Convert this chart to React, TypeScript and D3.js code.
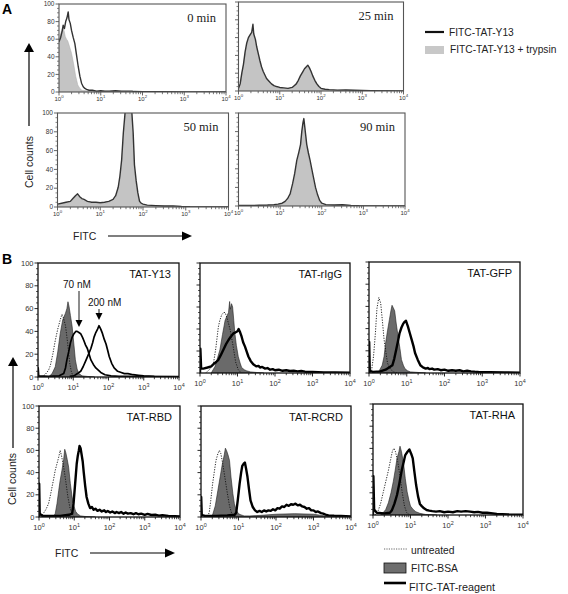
import React from 'react';
import * as d3 from 'd3';

type Pt = [number, number]; // [decade exponent of FITC, cell count]

// ---------- Panel A data ----------
const A_TIMES = ['0 min', '25 min', '50 min', '90 min'];
const A_LEGEND = ['FITC-TAT-Y13', 'FITC-TAT-Y13 + trypsin'];

const A0_LINE: Pt[] = [[0,57],[0.04,62],[0.08,70],[0.1,76],[0.13,72],[0.16,80],[0.19,84],[0.22,91],[0.24,82],[0.27,78],[0.3,70],[0.34,62],[0.38,55],[0.42,42],[0.46,29],[0.5,18],[0.54,10],[0.58,6],[0.62,4],[0.66,3],[0.72,2],[0.8,2],[0.9,1],[1.0,1.5],[1.1,1],[1.2,1],[1.35,1.5],[1.5,1],[1.6,1],[1.75,1],[1.8,0.5],[2,0.3],[2.5,0.2],[3,0.1],[4,0]];
const A0_FILL: Pt[] = [[0,57],[0.03,64],[0.06,70],[0.09,74],[0.12,70],[0.15,63],[0.18,60],[0.21,58],[0.25,52],[0.3,44],[0.35,32],[0.4,18],[0.45,8],[0.5,4],[0.55,2],[0.65,1.5],[0.8,1],[1.0,1],[1.3,0.8],[1.6,0.6],[1.8,0.3],[2.2,0],[4,0]];

const A25_LINE: Pt[] = [[0,3],[0.04,8],[0.08,20],[0.12,30],[0.16,44],[0.2,54],[0.24,60],[0.28,63],[0.32,66],[0.35,75],[0.37,64],[0.41,58],[0.44,50],[0.48,42],[0.52,34],[0.56,27],[0.6,22],[0.64,18],[0.68,14],[0.74,11],[0.8,8],[0.86,6],[0.92,5],[1.0,4],[1.1,3.5],[1.2,3],[1.3,4],[1.35,6],[1.4,8],[1.45,12],[1.5,17],[1.55,21],[1.6,25],[1.64,27],[1.68,29],[1.72,26],[1.76,22],[1.8,17],[1.85,12],[1.9,8],[1.95,5],[2.0,3],[2.1,2],[2.2,1.5],[2.4,1],[2.6,1.2],[2.8,0.8],[3.0,0.5],[3.2,0.3],[4,0]];
const A25_FILL: Pt[] = [[0,2],[0.04,7],[0.08,18],[0.12,29],[0.16,42],[0.2,52],[0.24,59],[0.28,62],[0.32,64],[0.35,70],[0.37,62],[0.41,56],[0.44,48],[0.48,40],[0.52,32],[0.56,25],[0.6,20],[0.64,16],[0.68,13],[0.74,10],[0.8,7],[0.86,5],[0.92,4],[1.0,3.5],[1.1,3],[1.2,2.5],[1.3,3.5],[1.35,5],[1.4,7],[1.45,11],[1.5,16],[1.55,20],[1.6,24],[1.64,26],[1.68,27],[1.72,25],[1.76,21],[1.8,16],[1.85,11],[1.9,7],[1.95,4],[2.0,2.5],[2.1,1.5],[2.2,1],[2.4,0.8],[2.6,1],[2.8,0.6],[3.0,0.4],[3.2,0.2],[4,0]];

const A50_LINE: Pt[] = [[0,3],[0.1,4],[0.2,5],[0.3,6],[0.36,9],[0.42,12],[0.47,14],[0.52,11],[0.57,9],[0.62,8],[0.7,6],[0.8,5],[0.9,5],[1.0,4.5],[1.1,5],[1.2,6],[1.3,8],[1.36,12],[1.42,21],[1.46,33],[1.5,50],[1.54,79],[1.58,100],[1.62,115],[1.66,118],[1.7,112],[1.74,100],[1.77,79],[1.8,45],[1.84,28],[1.88,15],[1.92,6],[1.96,4],[2.0,3],[2.1,2],[2.3,1.5],[2.5,1],[2.7,1.2],[2.9,0.6],[3.1,0.3],[4,0]];
const A50_FILL: Pt[] = [[0,2],[0.1,3],[0.2,4],[0.3,5],[0.36,8],[0.42,11],[0.47,13],[0.52,10],[0.57,8],[0.62,7],[0.7,5],[0.8,4],[0.9,4],[1.0,3.5],[1.1,4],[1.2,5],[1.3,7],[1.36,10],[1.42,18],[1.46,30],[1.5,46],[1.54,74],[1.58,96],[1.62,112],[1.66,115],[1.7,108],[1.74,95],[1.77,72],[1.8,40],[1.84,24],[1.88,12],[1.92,5],[1.96,3],[2.0,2],[2.1,1.5],[2.3,1],[2.5,0.8],[2.7,0.8],[2.9,0.4],[3.1,0.2],[4,0]];

const A90_LINE: Pt[] = [[0,0.5],[0.3,0.5],[0.5,0.8],[0.7,1],[0.85,1.5],[0.95,2],[1.05,3],[1.12,5],[1.18,8],[1.24,13],[1.3,24],[1.35,35],[1.4,49],[1.45,58],[1.49,66],[1.52,80],[1.55,90],[1.57,94],[1.6,82],[1.64,66],[1.68,57],[1.72,49],[1.76,40],[1.8,31],[1.85,20],[1.9,12],[1.95,6],[2.0,3],[2.1,1.5],[2.3,1],[2.5,1.3],[2.7,0.7],[2.9,0.3],[4,0]];
const A90_FILL: Pt[] = [[0,0.3],[0.3,0.3],[0.5,0.5],[0.7,0.8],[0.85,1],[0.95,1.5],[1.05,2],[1.12,4],[1.18,6],[1.24,10],[1.3,20],[1.35,31],[1.4,45],[1.45,56],[1.49,64],[1.52,78],[1.55,88],[1.57,91],[1.6,80],[1.64,64],[1.68,54],[1.72,45],[1.76,36],[1.8,27],[1.85,16],[1.9,9],[1.95,4],[2.0,2],[2.1,1],[2.3,0.8],[2.5,1],[2.7,0.5],[2.9,0.2],[4,0]];

// ---------- Panel B data ----------
const B_TITLES = ['TAT-Y13', 'TAT-rIgG', 'TAT-GFP', 'TAT-RBD', 'TAT-RCRD', 'TAT-RHA'];
const B_LEGEND = ['untreated', 'FITC-BSA', 'FITC-TAT-reagent'];
const B_DOSES = ['70 nM', '200 nM'];

const Y13_UNTR: Pt[] = [[0.1,0],[0.2,2],[0.3,6],[0.35,10],[0.42,20],[0.49,32],[0.56,42],[0.63,50],[0.68,55],[0.72,52],[0.78,45],[0.84,30],[0.9,12],[0.95,4],[1.0,1],[1.1,0]];
const Y13_BSA: Pt[] = [[0.3,0],[0.4,3],[0.49,9],[0.56,22],[0.63,38],[0.7,50],[0.78,56],[0.82,60],[0.85,66],[0.88,62],[0.92,54],[0.97,44],[1.02,28],[1.06,15],[1.11,7],[1.16,3],[1.25,1],[1.4,0.5],[1.6,0]];
const Y13_TAT70: Pt[] = [[0,0],[0.005,8],[0.02,1],[0.3,0.5],[0.6,1],[0.73,3],[0.78,8],[0.82,15],[0.87,22],[0.92,30],[0.97,35],[1.02,38],[1.07,40],[1.11,40],[1.16,39],[1.21,38],[1.26,35],[1.3,32],[1.35,28],[1.4,25],[1.45,20],[1.5,15],[1.57,11],[1.64,8],[1.71,6],[1.78,4],[1.9,2],[2.07,1],[2.3,0.5],[2.6,0.5],[3,0.3],[4,0.2]];
const Y13_TAT200: Pt[] = [[0.9,0.5],[1.02,1],[1.12,3],[1.21,5],[1.28,9],[1.35,14],[1.42,19],[1.5,25],[1.55,30],[1.59,35],[1.64,39],[1.69,42],[1.73,45],[1.78,42],[1.83,38],[1.88,33],[1.93,29],[1.98,23],[2.02,18],[2.09,12],[2.16,8],[2.26,5],[2.36,4],[2.45,3],[2.55,3],[2.7,2],[2.85,1.5],[3.0,1],[3.3,0.5],[4,0.3]];

const IGG_UNTR: Pt[] = [[0.15,0],[0.25,3],[0.36,9],[0.42,22],[0.49,42],[0.53,48],[0.58,53],[0.63,55],[0.67,55],[0.72,50],[0.8,40],[0.88,25],[0.95,10],[1.02,3],[1.1,0]];
const IGG_BSA: Pt[] = [[0.3,0],[0.4,6],[0.47,14],[0.53,21],[0.6,35],[0.67,48],[0.72,52],[0.76,55],[0.79,65],[0.81,58],[0.84,63],[0.87,60],[0.9,48],[0.93,36],[0.97,25],[1.02,15],[1.07,9],[1.11,5],[1.18,3],[1.24,2],[1.35,1],[1.5,0.5],[1.7,0]];
const IGG_TAT: Pt[] = [[0,0],[0.01,22],[0.03,4],[0.09,4],[0.2,5],[0.3,6],[0.36,8],[0.43,10],[0.49,12],[0.55,16],[0.62,21],[0.69,26],[0.76,30],[0.82,33],[0.89,36],[0.95,37],[1.0,38],[1.03,40],[1.07,37],[1.11,33],[1.15,28],[1.2,24],[1.25,19],[1.29,15],[1.35,11],[1.42,8],[1.5,6],[1.56,6.5],[1.6,5],[1.66,5.5],[1.73,4],[1.8,4.5],[1.87,3],[1.94,3.5],[2.0,2.5],[2.1,3],[2.2,2],[2.3,2.5],[2.4,1.8],[2.5,2],[2.6,1.5],[2.7,1.8],[2.8,1.2],[3.0,1],[3.3,0.6],[3.6,0.4],[4,0.3]];

const GFP_UNTR: Pt[] = [[0.02,0],[0.07,3],[0.12,15],[0.17,36],[0.21,58],[0.26,68],[0.31,63],[0.36,45],[0.4,30],[0.45,18],[0.49,9],[0.54,5],[0.58,3],[0.65,1],[0.75,0]];
const GFP_BSA: Pt[] = [[0.2,0],[0.27,2],[0.35,7],[0.4,15],[0.44,27],[0.49,38],[0.54,48],[0.58,56],[0.61,61],[0.64,59],[0.68,56],[0.72,45],[0.77,33],[0.82,22],[0.86,12],[0.91,7],[0.95,4],[1.02,2],[1.1,1],[1.3,0.5],[1.5,0]];
const GFP_TAT: Pt[] = [[0,0],[0.005,28],[0.02,2],[0.1,1],[0.3,1.5],[0.44,3],[0.53,5],[0.62,7],[0.67,13],[0.72,21],[0.77,29],[0.81,36],[0.86,41],[0.9,44],[0.94,46],[0.98,47],[1.03,42],[1.08,36],[1.13,30],[1.18,24],[1.22,18],[1.29,12],[1.36,7],[1.43,5],[1.5,4],[1.56,4.5],[1.6,3.5],[1.67,4],[1.73,3],[1.82,3.5],[1.9,2.5],[2.0,3],[2.1,2],[2.2,2.5],[2.3,2],[2.4,2.5],[2.5,1.5],[2.6,2],[2.7,1.5],[2.8,1.2],[2.9,1],[3.2,0.7],[3.6,0.5],[4,0.3]];

const RBD_UNTR: Pt[] = [[0.05,0],[0.12,3],[0.2,7],[0.27,12],[0.32,19],[0.37,27],[0.42,35],[0.46,42],[0.51,48],[0.56,54],[0.6,60],[0.64,55],[0.7,45],[0.76,32],[0.82,18],[0.88,8],[0.94,3],[1.0,0]];
const RBD_BSA: Pt[] = [[0.35,0],[0.42,1],[0.46,3],[0.51,12],[0.56,24],[0.6,33],[0.65,42],[0.7,52],[0.73,61],[0.76,58],[0.8,52],[0.84,45],[0.89,30],[0.94,18],[0.99,10],[1.04,5],[1.1,2.5],[1.18,1],[1.3,0.5],[1.6,0]];
const RBD_TAT: Pt[] = [[0,0],[0.005,30],[0.02,3],[0.1,1],[0.3,1],[0.6,1],[0.85,2],[0.94,3],[0.98,12],[1.01,24],[1.04,36],[1.07,48],[1.1,55],[1.13,60],[1.15,64],[1.18,62],[1.2,58],[1.24,50],[1.27,40],[1.31,28],[1.35,18],[1.4,12],[1.45,8],[1.5,9],[1.55,6.5],[1.6,7.5],[1.66,5.5],[1.72,6.5],[1.78,5],[1.85,6],[1.9,4.5],[1.95,5.5],[2.02,4],[2.08,5],[2.15,3.5],[2.2,4.5],[2.27,3.5],[2.33,4.5],[2.4,3],[2.46,4],[2.52,3],[2.6,3.5],[2.68,2.5],[2.75,3.5],[2.82,2.5],[2.9,3],[3.0,2],[3.08,2.8],[3.19,1.8],[3.3,2],[3.4,1.2],[3.5,1.6],[3.67,1],[3.85,0.8],[4,0.5]];

const RCRD_UNTR: Pt[] = [[0.1,0],[0.18,1],[0.22,4],[0.26,15],[0.31,30],[0.36,42],[0.4,51],[0.45,57],[0.49,60],[0.53,57],[0.58,48],[0.64,35],[0.7,22],[0.76,10],[0.82,3],[0.9,0]];
const RCRD_BSA: Pt[] = [[0.22,0],[0.27,1],[0.31,2],[0.38,10],[0.45,24],[0.51,36],[0.57,48],[0.62,56],[0.65,62],[0.68,60],[0.72,56],[0.76,51],[0.8,36],[0.85,21],[0.89,12],[0.94,6],[1.0,3],[1.06,2],[1.15,1],[1.3,1],[1.6,1.5],[2.0,2.5],[2.5,3],[3.0,2.5],[3.3,1],[3.6,0.5],[4,0]];
const RCRD_TAT: Pt[] = [[0,0],[0.005,18],[0.02,2],[0.1,1],[0.4,1],[0.7,1.5],[0.9,2],[0.94,4],[0.98,15],[1.03,30],[1.07,40],[1.1,46],[1.14,48],[1.17,49],[1.2,44],[1.24,36],[1.28,25],[1.32,15],[1.38,9],[1.44,6],[1.5,4.5],[1.56,5.5],[1.62,4.5],[1.68,6],[1.74,5],[1.8,6],[1.86,5.5],[1.92,7],[1.98,6],[2.04,8],[2.1,7.5],[2.16,9.5],[2.22,9],[2.28,11],[2.34,10],[2.4,11.5],[2.46,11],[2.52,12],[2.58,10.5],[2.64,11],[2.7,9.5],[2.76,9],[2.82,7.5],[2.88,8],[2.94,6],[3.0,6],[3.06,4.5],[3.12,5],[3.2,3.5],[3.26,3],[3.32,2.2],[3.4,1.5],[3.55,1.2],[3.73,1],[4,0.5]];

const RHA_UNTR: Pt[] = [[0.05,0],[0.1,2],[0.14,4],[0.2,10],[0.27,20],[0.34,30],[0.41,40],[0.47,50],[0.52,58],[0.56,60],[0.6,57],[0.66,48],[0.72,35],[0.78,20],[0.84,8],[0.9,2],[0.98,0]];
const RHA_BSA: Pt[] = [[0.2,0],[0.27,2],[0.34,5],[0.41,11],[0.48,20],[0.54,30],[0.59,40],[0.64,51],[0.69,57],[0.72,62],[0.76,57],[0.82,45],[0.86,33],[0.91,21],[0.96,13],[1.0,8],[1.07,5],[1.14,3],[1.25,1.5],[1.4,0.5],[1.7,0]];
const RHA_TAT: Pt[] = [[0,0],[0.01,35],[0.03,5],[0.1,2],[0.3,1.5],[0.45,2],[0.5,4],[0.57,10],[0.64,18],[0.7,28],[0.77,41],[0.82,48],[0.86,54],[0.92,57],[0.97,59],[1.02,55],[1.06,51],[1.1,40],[1.15,27],[1.2,17],[1.25,10],[1.3,8],[1.36,6],[1.43,4.5],[1.5,4],[1.58,3.5],[1.68,3],[1.78,3.5],[1.9,2.5],[2.0,3],[2.13,2.5],[2.25,3.5],[2.35,3],[2.47,3.5],[2.59,3],[2.7,2.5],[2.8,2.8],[2.92,2],[3.04,2],[3.3,1],[3.6,0.5],[4,0.3]];

const X_EXPONENTS = [0, 1, 2, 3, 4];
const Y_MAJOR = [0, 20, 40, 60, 80, 100];

// ---------- layout ----------
const SANS = 'Liberation Sans, Arial, Helvetica, sans-serif';
const SERIF = 'Liberation Serif, Times New Roman, serif';

type Box = { x: number; y: number; w: number; h: number };
type Series = { data: Pt[]; kind: 'fillA' | 'lineA' | 'fillB' | 'dotB' | 'thickB' | 'medB' };

const A_BOXES: Box[] = [
  { x: 59, y: 4, w: 167, h: 88 },
  { x: 238.5, y: 2, w: 165, h: 89 },
  { x: 57.5, y: 113, w: 171, h: 94 },
  { x: 238.5, y: 113, w: 166.5, h: 93 },
];
const B_BOXES: Box[] = [
  { x: 38, y: 263, w: 141, h: 114 },
  { x: 200, y: 263, w: 150, h: 110 },
  { x: 369, y: 262, w: 151, h: 111 },
  { x: 39, y: 406, w: 141, h: 111 },
  { x: 201, y: 406, w: 150, h: 111 },
  { x: 373, y: 404, w: 150, h: 111 },
];

const A_SERIES: Series[][] = [
  [{ data: A0_FILL, kind: 'fillA' }, { data: A0_LINE, kind: 'lineA' }],
  [{ data: A25_FILL, kind: 'fillA' }, { data: A25_LINE, kind: 'lineA' }],
  [{ data: A50_FILL, kind: 'fillA' }, { data: A50_LINE, kind: 'lineA' }],
  [{ data: A90_FILL, kind: 'fillA' }, { data: A90_LINE, kind: 'lineA' }],
];
const B_SERIES: Series[][] = [
  [{ data: Y13_BSA, kind: 'fillB' }, { data: Y13_UNTR, kind: 'dotB' }, { data: Y13_TAT70, kind: 'medB' }, { data: Y13_TAT200, kind: 'medB' }],
  [{ data: IGG_BSA, kind: 'fillB' }, { data: IGG_UNTR, kind: 'dotB' }, { data: IGG_TAT, kind: 'thickB' }],
  [{ data: GFP_BSA, kind: 'fillB' }, { data: GFP_UNTR, kind: 'dotB' }, { data: GFP_TAT, kind: 'thickB' }],
  [{ data: RBD_BSA, kind: 'fillB' }, { data: RBD_UNTR, kind: 'dotB' }, { data: RBD_TAT, kind: 'thickB' }],
  [{ data: RCRD_BSA, kind: 'fillB' }, { data: RCRD_UNTR, kind: 'dotB' }, { data: RCRD_TAT, kind: 'thickB' }],
  [{ data: RHA_BSA, kind: 'fillB' }, { data: RHA_UNTR, kind: 'dotB' }, { data: RHA_TAT, kind: 'thickB' }],
];

function Histogram({ id, box, series, panelA, yLabels }: { id: string; box: Box; series: Series[]; panelA: boolean; yLabels: boolean }) {
  const x = d3.scaleLog().domain([1, 1e4]).range([box.x, box.x + box.w]);
  const y = d3.scaleLinear().domain([0, 100]).range([box.y + box.h, box.y]);
  const px = (d: Pt) => x(Math.pow(10, d[0]));
  const line = d3.line<Pt>().x(px).y((d) => y(d[1]));
  const area = d3.area<Pt>().x(px).y0(y(0)).y1((d) => y(d[1]));
  const bottom = box.y + box.h;
  const frameColor = panelA ? '#555' : '#111';
  const axisW = panelA ? 1.1 : 1.3;
  const minorX = x.ticks().filter((t) => Math.abs(Math.log10(t) - Math.round(Math.log10(t))) > 1e-6);
  const minorY = y.ticks(20).filter((t) => t % 20 !== 0);
  const fsX = panelA ? 6 : 7.5;
  const fsY = panelA ? 6.5 : 7.5;
  return (
    <g>
      <defs>
        <clipPath id={id}>
          <rect x={box.x} y={box.y} width={box.w} height={box.h} />
        </clipPath>
      </defs>
      <g clipPath={`url(#${id})`}>
        {series.map((s, i) => {
          if (s.kind === 'fillA') return <path key={i} d={area(s.data) || ''} fill="#c4c4c4" stroke="#aaa" strokeWidth={0.5} />;
          if (s.kind === 'fillB') return <path key={i} d={area(s.data) || ''} fill="#6a6a6a" stroke="#222" strokeWidth={0.6} />;
          if (s.kind === 'lineA') return <path key={i} d={line(s.data) || ''} fill="none" stroke="#333" strokeWidth={1.4} strokeLinejoin="round" />;
          if (s.kind === 'dotB') return <path key={i} d={line(s.data) || ''} fill="none" stroke="#111" strokeWidth={0.9} strokeDasharray="1.2 1.4" />;
          if (s.kind === 'medB') return <path key={i} d={line(s.data) || ''} fill="none" stroke="#000" strokeWidth={1.7} strokeLinejoin="round" />;
          return <path key={i} d={line(s.data) || ''} fill="none" stroke="#000" strokeWidth={2.4} strokeLinejoin="round" />;
        })}
      </g>
      <rect x={box.x} y={box.y} width={box.w} height={box.h} fill="none" stroke={frameColor} strokeWidth={axisW} />
      {X_EXPONENTS.map((e) => (
        <line key={'xM' + e} x1={x(Math.pow(10, e))} x2={x(Math.pow(10, e))} y1={bottom} y2={bottom + 3.5} stroke={frameColor} strokeWidth={0.9} />
      ))}
      {minorX.map((t) => (
        <line key={'xm' + t} x1={x(t)} x2={x(t)} y1={bottom} y2={bottom + 2.2} stroke={frameColor} strokeWidth={0.8} />
      ))}
      {X_EXPONENTS.map((e) => (
        <text key={'xl' + e} x={x(Math.pow(10, e))} y={bottom + (panelA ? 8.5 : 13)} textAnchor="middle" fontFamily={SANS} fontSize={fsX} fill="#333">
          10<tspan dy={panelA ? -2.5 : -3.5} fontSize={fsX * 0.72}>{e}</tspan>
        </text>
      ))}
      {Y_MAJOR.map((t) => (
        <line key={'yM' + t} x1={box.x - 3.5} x2={box.x} y1={y(t)} y2={y(t)} stroke={frameColor} strokeWidth={0.9} />
      ))}
      {minorY.map((t) => (
        <line key={'ym' + t} x1={box.x - 2} x2={box.x} y1={y(t)} y2={y(t)} stroke={frameColor} strokeWidth={0.7} />
      ))}
      {yLabels &&
        Y_MAJOR.map((t) => (
          <text key={'yl' + t} x={box.x - 4.5} y={y(t) + fsY * 0.35} textAnchor="end" fontFamily={SANS} fontSize={fsY} fill="#333">
            {t}
          </text>
        ))}
    </g>
  );
}

function UpArrow({ x, yTop, yBottom, color = '#000' }: { x: number; yTop: number; yBottom: number; color?: string }) {
  return (
    <g>
      <line x1={x} x2={x} y1={yBottom} y2={yTop + 8} stroke={color} strokeWidth={1.2} />
      <path d={`M${x},${yTop} L${x - 5},${yTop + 9} L${x + 5},${yTop + 9} Z`} fill={color} />
    </g>
  );
}
function RightArrow({ x1, x2, y, color = '#000' }: { x1: number; x2: number; y: number; color?: string }) {
  return (
    <g>
      <line x1={x1} x2={x2 - 8} y1={y} y2={y} stroke={color} strokeWidth={1.2} />
      <path d={`M${x2},${y} L${x2 - 10},${y - 4.5} L${x2 - 10},${y + 4.5} Z`} fill={color} />
    </g>
  );
}
function DownArrow({ x, yTop, yTip }: { x: number; yTop: number; yTip: number }) {
  return (
    <g>
      <line x1={x} x2={x} y1={yTop} y2={yTip - 5} stroke="#000" strokeWidth={0.9} />
      <path d={`M${x},${yTip} L${x - 3.5},${yTip - 7} L${x + 3.5},${yTip - 7} Z`} fill="#000" />
    </g>
  );
}

export default function App() {
  return (
    <svg width={568} height={594} style={{ position: 'absolute', left: 0, top: 0, background: '#fff' }} xmlns="http://www.w3.org/2000/svg">
      <rect x={0} y={0} width={568} height={594} fill="#fff" />
      {/* Panel A */}
      <text x={2} y={14} fontFamily={SANS} fontWeight="bold" fontSize={14}>A</text>
      {A_BOXES.map((b, i) => (
        <Histogram key={'a' + i} id={'clipA' + i} box={b} series={A_SERIES[i]} panelA={true} yLabels={i % 2 === 0} />
      ))}
      {A_BOXES.map((b, i) => (
        <text key={'at' + i} x={b.x + b.w - 10} y={b.y + 18} textAnchor="end" fontFamily={SERIF} fontSize={12.5} fill="#222">
          {A_TIMES[i]}
        </text>
      ))}
      <UpArrow x={29} yTop={43} yBottom={126} />
      <text transform="translate(33,188) rotate(-90)" fontFamily={SANS} fontSize={10.5} fill="#222">Cell counts</text>
      <text x={73} y={240} fontFamily={SANS} fontSize={10.5} fill="#222">FITC</text>
      <RightArrow x1={108} x2={192} y={236} />
      {/* Legend A */}
      <line x1={425} x2={444} y1={32} y2={32} stroke="#111" strokeWidth={2.2} />
      <text x={449} y={36} fontFamily={SANS} fontSize={10.2} fill="#222">{A_LEGEND[0]}</text>
      <rect x={425} y={46} width={19} height={8} fill="#c8c8c8" />
      <text x={450} y={53} fontFamily={SANS} fontSize={10.2} fill="#222">{A_LEGEND[1]}</text>

      {/* Panel B */}
      <text x={2} y={264} fontFamily={SANS} fontWeight="bold" fontSize={14}>B</text>
      {B_BOXES.map((b, i) => (
        <Histogram key={'b' + i} id={'clipB' + i} box={b} series={B_SERIES[i]} panelA={false} yLabels={i % 3 === 0} />
      ))}
      {B_BOXES.map((b, i) => (
        <text key={'bt' + i} x={b.x + b.w - 8} y={b.y + 15} textAnchor="end" fontFamily={SANS} fontSize={11} fill="#111">
          {B_TITLES[i]}
        </text>
      ))}
      <text x={63} y={288} fontFamily={SANS} fontSize={10} fill="#111">{B_DOSES[0]}</text>
      <DownArrow x={79} yTop={291} yTip={327} />
      <text x={88} y={306} fontFamily={SANS} fontSize={10} fill="#111">{B_DOSES[1]}</text>
      <DownArrow x={99} yTop={309} yTip={320} />

      <UpArrow x={13} yTop={357} yBottom={448} />
      <text transform="translate(16,505) rotate(-90)" fontFamily={SANS} fontSize={10.5} fill="#222">Cell counts</text>
      <text x={55} y={557} fontFamily={SANS} fontSize={10.5} fill="#222">FITC</text>
      <RightArrow x1={90} x2={175} y={553} />
      {/* Legend B */}
      <line x1={384} x2={407} y1={549} y2={549} stroke="#555" strokeWidth={0.9} strokeDasharray="1.2 1.2" />
      <text x={411} y={554} fontFamily={SANS} fontSize={10.3} fill="#222">{B_LEGEND[0]}</text>
      <rect x={384} y={563} width={22} height={10} fill="#6e6e6e" stroke="#111" strokeWidth={0.8} />
      <text x={411} y={572} fontFamily={SANS} fontSize={10.3} fill="#222">{B_LEGEND[1]}</text>
      <line x1={384} x2={406} y1={583} y2={583} stroke="#000" strokeWidth={2.6} />
      <text x={409} y={591} fontFamily={SANS} fontSize={10.8} fill="#222">{B_LEGEND[2]}</text>
    </svg>
  );
}
